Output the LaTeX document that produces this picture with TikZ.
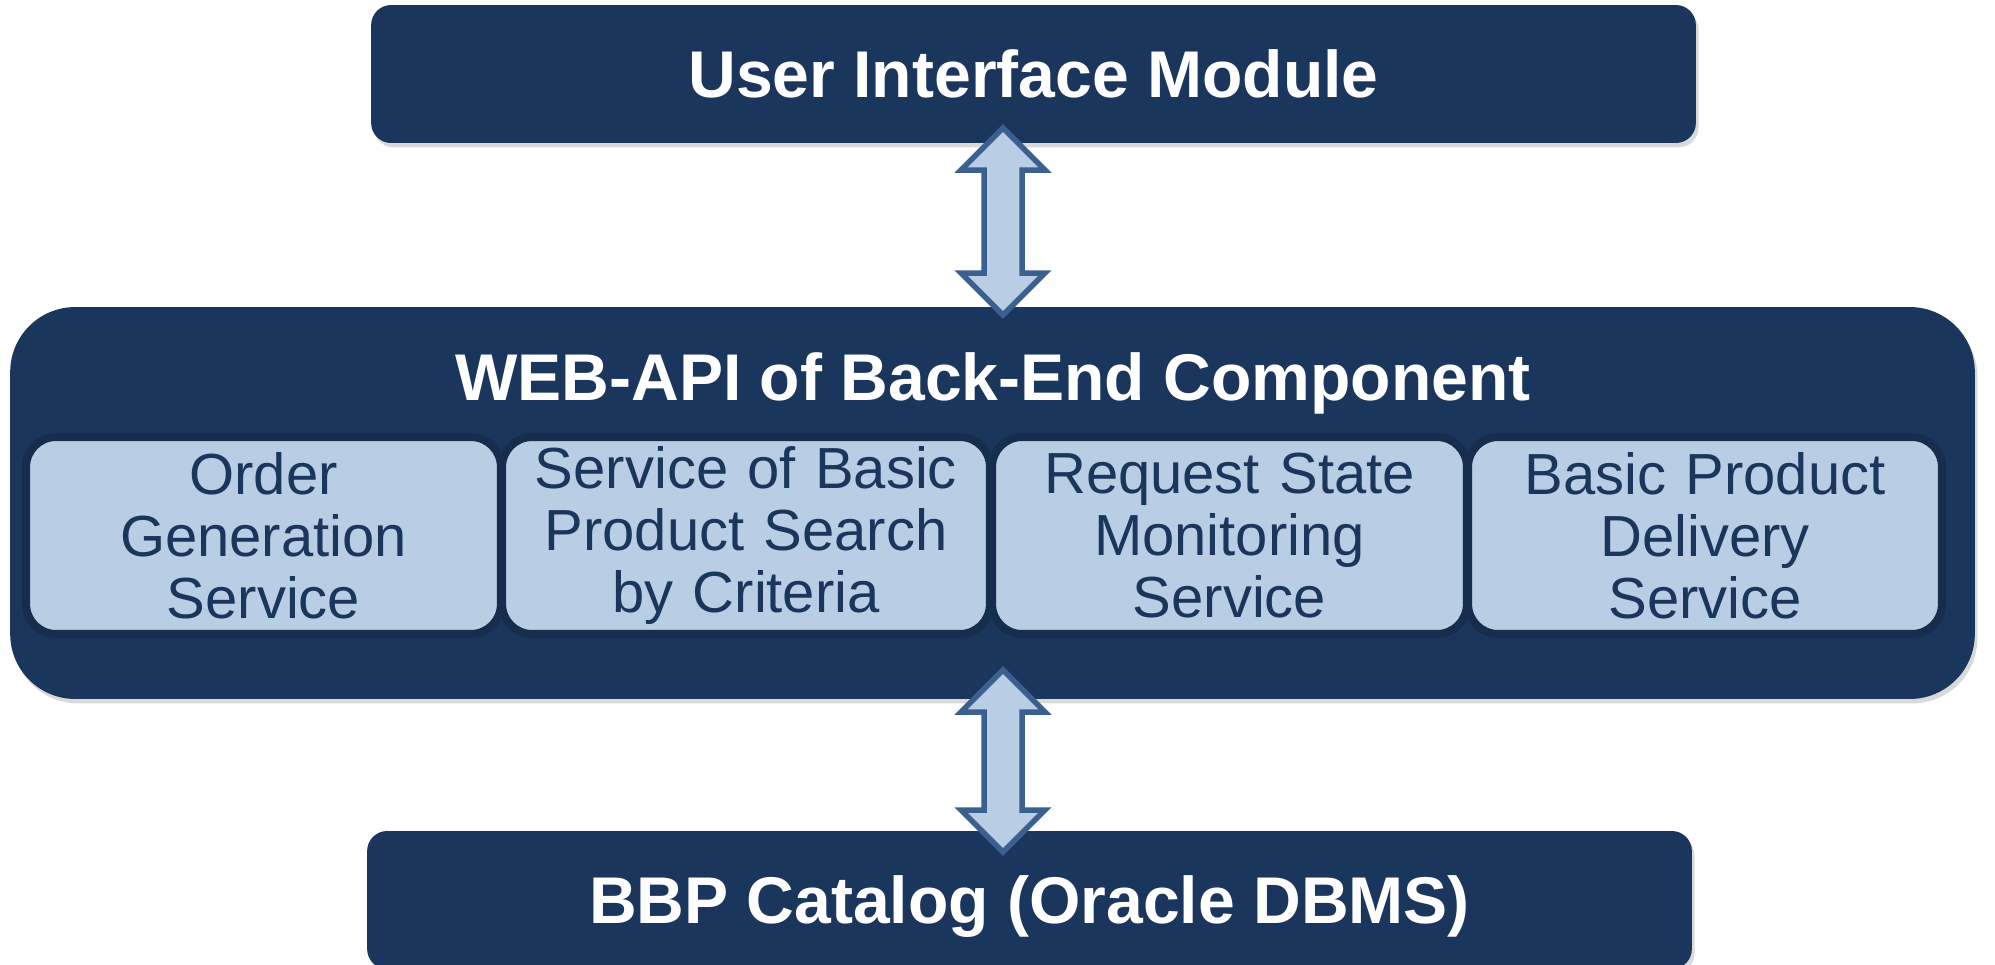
\documentclass[tikz,border=0pt]{standalone}
\usepackage{fontspec}
\setmainfont{Liberation Sans}
\usetikzlibrary{shadows,calc}
\definecolor{navy}{HTML}{1B365D}
\definecolor{navydk}{HTML}{162D4E}
\definecolor{lightblue}{HTML}{B9CDE5}
\definecolor{arrline}{HTML}{3B5F8E}
\begin{document}
\begin{tikzpicture}[x=0.02cm,y=-0.02cm,
  bigbox/.style={fill=navy, rounded corners=0.4cm, minimum width=26.5cm, minimum height=2.76cm,
    inner sep=0pt, text=white, font=\bfseries\fontsize{37.6}{40}\selectfont,
    text height=0.945cm, text depth=0pt,
    drop shadow={opacity=0.3, shadow xshift=1.5pt, shadow yshift=-2.5pt}},
  webbox/.style={fill=navy, rounded corners=1.3cm, minimum width=39.3cm, minimum height=7.84cm,
    inner sep=0pt, drop shadow={opacity=0.3, shadow xshift=1.5pt, shadow yshift=-2.5pt}},
  title/.style={text=white, font=\bfseries\fontsize{37.6}{40}\selectfont, inner sep=0pt, anchor=base},
  svc/.style={fill=lightblue, draw=navydk, line width=0.16cm, rounded corners=0.6cm,
    minimum height=3.94cm, inner sep=0pt, text=navy, align=center, text width=9.2cm,
    font=\fontsize{33}{35.4}\selectfont},
  dblarrow/.style={fill=lightblue, draw=arrline, line width=0.11cm, line join=miter}
]
\useasboundingbox (0,0) rectangle (1995,964);

% Back-end component
\node[webbox] (web) at (992.5,503) {};
\node[title] (webtitle) at (993,400) {WEB-API of Back-End Component};

\node[svc, minimum width=9.5cm] (s1) at (263.5,535.5) {Order\\Generation\\Service};
\node[svc, minimum width=9.76cm] (s2) at (746,535.5) {Service of Basic\\Product Search\\by Criteria};
\node[svc, minimum width=9.5cm] (s3) at (1229.5,535.5) {Request State\\Monitoring\\Service};
\node[svc, minimum width=9.48cm] (s4) at (1705,535.5) {Basic Product\\Delivery\\Service};

% Top and bottom modules
\node[bigbox] (ui) at (1033.5,74) {User Interface Module};
\node[bigbox] (bbp) at (1029.5,900) {BBP Catalog (Oracle DBMS)};

% Double arrows
\coordinate (a1t) at (1003,128);
\coordinate (a1b) at (1003,315);
\coordinate (a2t) at (1003,670);
\coordinate (a2b) at (1003,852);
\foreach \t/\b in {a1t/a1b, a2t/a2b}{
  \draw[dblarrow] (\t) -- ++(42,42) -- ++(-23,0) -- ($(\b)+(19,-42)$) -- ++(23,0) -- (\b)
    -- ++(-42,-42) -- ++(23,0) -- ($(\t)+(-19,42)$) -- ++(-23,0) -- cycle;
}
\end{tikzpicture}
\end{document}
